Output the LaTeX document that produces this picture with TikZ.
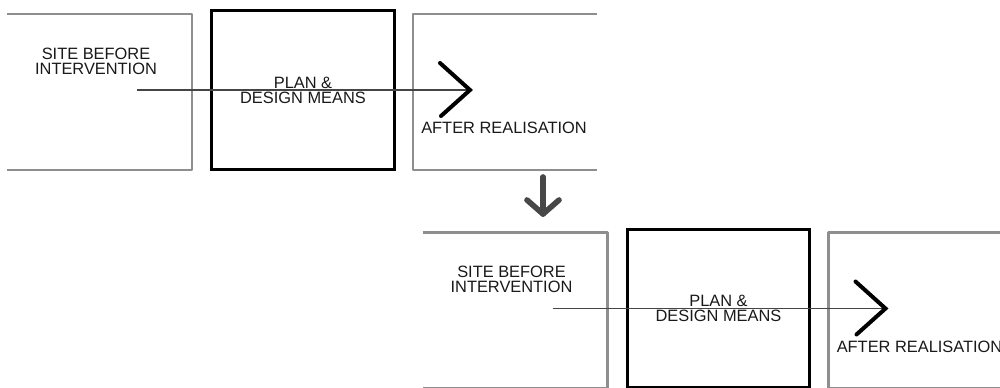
\documentclass[tikz,border=0pt]{standalone}
\usepackage{fontspec}
\setmainfont{Liberation Sans}
\definecolor{boxgray}{HTML}{8E8E8E}
\definecolor{flowgray}{HTML}{454545}
\definecolor{downgray}{HTML}{474747}
\tikzset{
  graybox/.style={draw=boxgray, line width=1.6pt, line join=round},
  planbox/.style={draw=black, line width=2.3pt, minimum width=137pt, minimum height=119pt, inner sep=0pt,
    align=center, text=black!90, font=\fontsize{12.3}{11.3}\selectfont},
  lbl/.style={align=center, inner sep=0pt, text=black!90, font=\fontsize{12.3}{11.3}\selectfont},
  flow/.style={draw=flowgray, line width=1.4pt},
  chev/.style={draw=black, line width=3pt, line cap=round, line join=miter},
  downarrow/.style={draw=downgray, line width=4.2pt, line cap=round, line join=round},
}
\begin{document}
\begin{tikzpicture}[x=0.75pt,y=-0.75pt]
\useasboundingbox (0,0) rectangle (1000,388);
% ---------- top row ----------
\draw[graybox] (7,14) -- (192,14) -- (192,170) -- (7,170);
\draw[graybox] (597,14) -- (413,14) -- (413,170) -- (597,170);
\node[lbl] (site1) at (96,61) {SITE BEFORE\\INTERVENTION};
\node[planbox] (plan1) at (303,90) {PLAN \&\\DESIGN MEANS};
\node[lbl, anchor=west] (after1) at (421,128) {AFTER REALISATION};
\coordinate (s1) at (137,90);
\coordinate (t1) at (470,90);
\draw[flow] (s1) -- (t1);
\draw[chev] (t1) ++(-30,-27) -- (t1) -- ++(-29,26);
% ---------- down arrow ----------
\coordinate (d0) at (543,177);
\coordinate (d1) at (543,214);
\draw[downarrow] (d0) -- (d1);
\draw[downarrow] (d1) ++(-16,-14) -- (d1) -- ++(16,-14);
% ---------- bottom row ----------
\begin{scope}[shift={(415.5,218.5)}]
\draw[graybox] (7,14) -- (192,14) -- (192,170) -- (7,170);
\draw[graybox] (597,14) -- (413,14) -- (413,170) -- (597,170);
\node[lbl] (site2) at (96,61) {SITE BEFORE\\INTERVENTION};
\node[planbox] (plan2) at (303,90) {PLAN \&\\DESIGN MEANS};
\node[lbl, anchor=west] (after2) at (421,128) {AFTER REALISATION};
\coordinate (s2) at (137,90);
\coordinate (t2) at (470,90);
\draw[flow] (s2) -- (t2);
\draw[chev] (t2) ++(-30,-27) -- (t2) -- ++(-29,26);
\end{scope}
\end{tikzpicture}
\end{document}
